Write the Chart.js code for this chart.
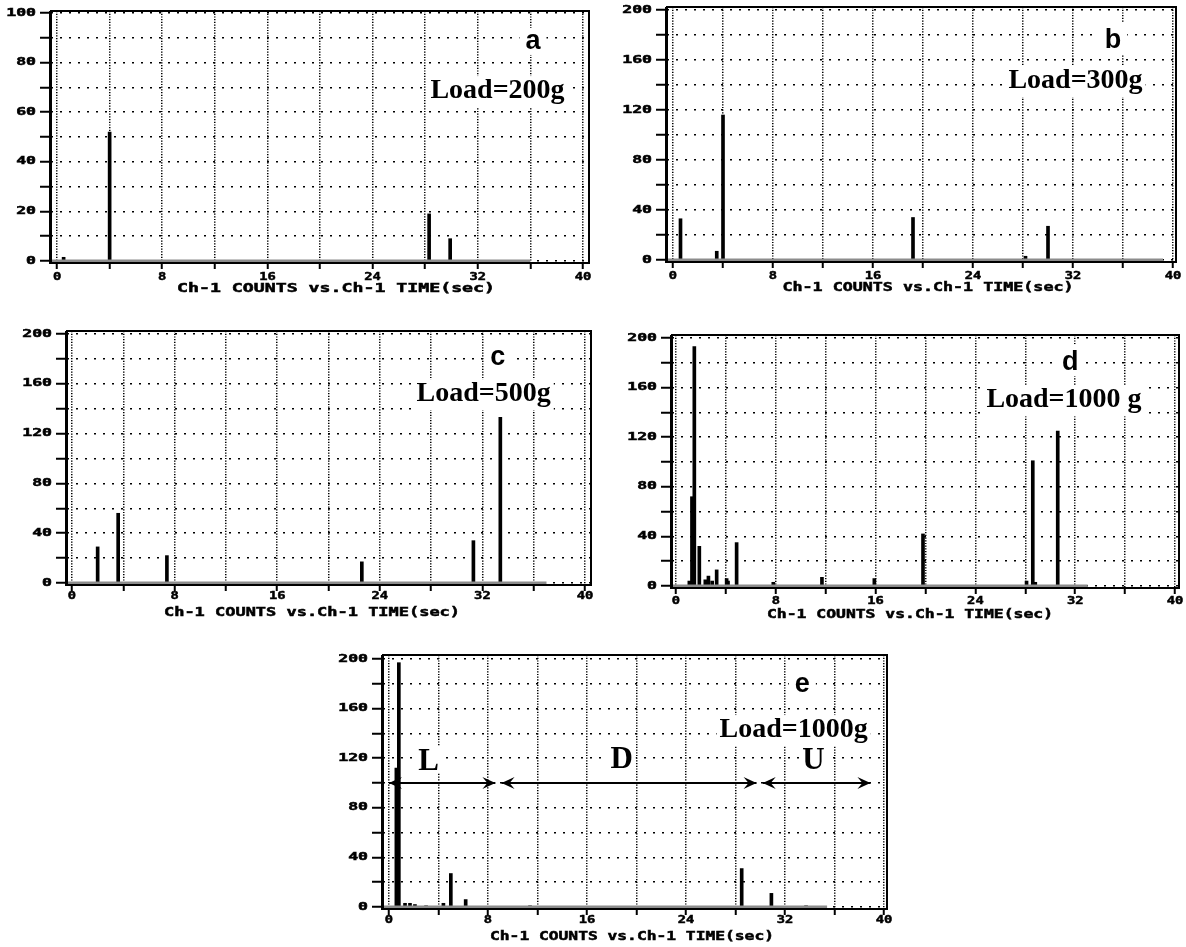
<!DOCTYPE html>
<html>
<head>
<meta charset="utf-8">
<title>Ch-1 counts vs time</title>
<script src="https://cdn.jsdelivr.net/npm/chart.js@4.4.1/dist/chart.umd.min.js"></script>
<style>
  body { margin: 0; background: #fff; }
  #wrap { position: relative; width: 1186px; height: 947px; overflow: hidden; }
  #wrap canvas { position: absolute; }
</style>
</head>
<body>
<div id="wrap">
  <canvas id="chartA" style="left:0;top:0"></canvas>
  <canvas id="chartB" style="left:610px;top:0"></canvas>
  <canvas id="chartC" style="left:0;top:310px"></canvas>
  <canvas id="chartD" style="left:610px;top:310px"></canvas>
  <canvas id="chartE" style="left:320px;top:640px"></canvas>
</div>
<script>
// ---- data ----
const timesA  = [0.5, 4.0, 28.3, 29.9];
const countsA = [1.5, 52, 19, 9];

const timesB  = [0.6, 3.5, 4.0, 19.2, 28.2, 30.0];
const countsB = [33, 7, 116, 34, 3, 27];

const timesC  = [2.0, 3.6, 7.4, 22.6, 31.3, 33.4];
const countsC = [29, 56, 22, 17, 34, 133];

const timesD  = [1.07, 1.28, 1.47, 1.87, 2.35, 2.6, 2.9, 3.26, 4.06, 4.17, 4.86, 7.8, 11.7, 15.9, 19.8, 28.1, 28.6, 28.8, 30.6];
const countsD = [4, 72, 193, 32, 5, 8, 4, 13, 6, 4, 35, 3, 7, 6, 42, 4, 101, 3, 125];

const timesE  = [0.6, 0.8, 1.3, 1.7, 2.1, 3.0, 4.4, 5.0, 6.2, 11.4, 28.5, 30.9, 33.7];
const countsE = [112, 197, 3, 3, 2, 1, 3, 27, 6, 1, 31, 11, 1];

// end of the recorded trace (zero line) for each run
const traceEnd = [36, 39.2, 37, 33, 35.4];

const panelLetters = ['a', 'b', 'c', 'd', 'e'];
const loadLabels = ['Load=200g', 'Load=300g', 'Load=500g', 'Load=1000 g', 'Load=1000g'];

// regions marked in run e
const regionNames = ['L', 'D', 'U'];
const regionStart = [0, 9.1, 30.2];
const regionEnd = [8.6, 29.7, 38.9];
const regionLevel = 100;

const xTickLabels = [0, 8, 16, 24, 32, 40];
const xTitle = 'Ch-1 COUNTS vs.Ch-1 TIME(sec)';

// ---- helpers / plugins ----
const monoFamily = '"DejaVu Sans Mono"';

// the old plotter font is very wide, so squeeze a mono font out sideways
function wideText(ctx, text, px, py, size, sx, align) {
  ctx.save();
  ctx.font = 'bold ' + size + 'px ' + monoFamily;
  ctx.textBaseline = 'middle';
  ctx.textAlign = align;
  ctx.fillStyle = '#000';
  ctx.strokeStyle = '#000';
  ctx.lineWidth = 0.5;
  ctx.translate(px, py);
  ctx.scale(sx, 1);
  ctx.fillText(text, 0, 0);
  ctx.strokeText(text, 0, 0);
  ctx.restore();
}

const framePlugin = {
  id: 'frame',
  afterDatasetsDraw(chart) {
    const { ctx, chartArea: a } = chart;
    ctx.save();
    ctx.strokeStyle = '#000';
    ctx.lineWidth = 2;
    ctx.strokeRect(a.left, a.top, a.right - a.left, a.bottom - a.top);
    ctx.fillStyle = '#000';
    ctx.fillRect(a.left - 2, a.top, 3, a.bottom - a.top + 1);
    ctx.restore();
  }
};

function axisTextPlugin(p) {
  return {
    id: 'axisText',
    afterDraw(chart) {
      const { ctx, chartArea: a, scales: { x, y } } = chart;
      x.ticks.forEach(t => {
        if (xTickLabels.includes(t.value)) {
          wideText(ctx, String(t.value), x.getPixelForValue(t.value), a.bottom + p.xLabelDy, 11, 1.25, 'center');
        }
      });
      y.ticks.forEach(t => {
        if (t.value % p.yLabelStep === 0) {
          wideText(ctx, String(t.value), a.left - 15, y.getPixelForValue(t.value), 10, 1.65, 'right');
        }
      });
      ctx.save();
      ctx.font = 'bold 12px ' + monoFamily;
      const w = ctx.measureText(xTitle).width;
      ctx.restore();
      wideText(ctx, xTitle, p.title.cx, p.title.cy, 12, p.title.w / w, 'center');
    }
  };
}

function labelPlugin(items) {
  return {
    id: 'labels',
    beforeDatasetsDraw(chart) {
      const { ctx, scales: { x, y } } = chart;
      items.forEach(it => {
        ctx.save();
        ctx.font = it.font;
        ctx.textAlign = 'center';
        ctx.textBaseline = 'alphabetic';
        const m = ctx.measureText(it.text);
        const px = x.getPixelForValue(it.x);
        const py = y.getPixelForValue(it.y);
        const pad = it.pad || 4;
        ctx.fillStyle = '#fff';
        ctx.fillRect(px - m.width / 2 - pad, py - m.actualBoundingBoxAscent - pad,
          m.width + pad * 2, m.actualBoundingBoxAscent + m.actualBoundingBoxDescent + pad * 2);
        ctx.fillStyle = '#000';
        ctx.fillText(it.text, px, py);
        ctx.restore();
      });
    }
  };
}

function arrowHead(ctx, px, py, dir) {
  ctx.beginPath();
  ctx.moveTo(px, py);
  ctx.lineTo(px - dir * 13, py - 6);
  ctx.lineTo(px - dir * 8, py);
  ctx.lineTo(px - dir * 13, py + 6);
  ctx.closePath();
  ctx.fill();
}

function arrowPlugin(starts, ends, level) {
  return {
    id: 'arrowHeads',
    afterDatasetsDraw(chart) {
      const { ctx, scales: { x, y } } = chart;
      const py = y.getPixelForValue(level);
      ctx.save();
      ctx.fillStyle = '#000';
      starts.forEach((s, i) => {
        arrowHead(ctx, x.getPixelForValue(s), py, -1);
        arrowHead(ctx, x.getPixelForValue(ends[i]), py, 1);
      });
      ctx.restore();
    }
  };
}

// ---- panels ----
const letterFont = 'bold 27px "Liberation Sans"';
const loadFont = 'bold 28px "Liberation Serif"';
const regionFont = 'bold 31px "Liberation Serif"';

const panels = [
  { id: 'chartA', w: 600, h: 300, area: { l: 51, t: 11, r: 589, b: 263 },
    xr: [-0.46, 40.46], yr: [-0.8, 100.8], yStep: 10, yLabelStep: 20, xLabelDy: 14,
    times: timesA, counts: countsA, end: traceEnd[0],
    title: { cx: 336, cy: 289, w: 318 },
    letterAt: [36.2, 85.5], loadAt: [33.5, 65.7] },
  { id: 'chartB', w: 576, h: 300, area: { l: 57, t: 7, r: 566, b: 262 },
    xr: [-0.48, 40.24], yr: [-1.6, 202.4], yStep: 20, yLabelStep: 40, xLabelDy: 14,
    times: timesB, counts: countsB, end: traceEnd[1],
    title: { cx: 318, cy: 288, w: 291 },
    letterAt: [35.2, 169.6], loadAt: [32.2, 137.6] },
  { id: 'chartC', w: 600, h: 320, area: { l: 67, t: 21, r: 591, b: 275 },
    xr: [-0.39, 40.47], yr: [-1.6, 202.4], yStep: 20, yLabelStep: 40, xLabelDy: 11,
    times: timesC, counts: countsC, end: traceEnd[2],
    title: { cx: 312, cy: 303, w: 296 },
    letterAt: [33.2, 175], loadAt: [32.1, 146] },
  { id: 'chartD', w: 576, h: 320, area: { l: 62, t: 25, r: 569, b: 278 },
    xr: [-0.32, 40.32], yr: [-1.6, 202.4], yStep: 20, yLabelStep: 40, xLabelDy: 13,
    times: timesD, counts: countsD, end: traceEnd[3],
    title: { cx: 300, cy: 305, w: 286 },
    letterAt: [31.6, 174], loadAt: [31.1, 144] },
  { id: 'chartE', w: 600, h: 307, area: { l: 63, t: 15, r: 567, b: 269 },
    xr: [-0.48, 40.24], yr: [-1.6, 203.2], yStep: 20, yLabelStep: 40, xLabelDy: 11,
    times: timesE, counts: countsE, end: traceEnd[4],
    title: { cx: 312, cy: 297, w: 284 },
    letterAt: [33.4, 173], loadAt: [32.7, 137],
    regions: true }
];

const regionLabelAt = [[3.2, 110.5], [18.8, 112], [34.3, 111]];

panels.forEach((p, idx) => {
  const canvas = document.getElementById(p.id);
  canvas.width = p.w;
  canvas.height = p.h;

  const datasets = [
    {
      type: 'bar',
      data: p.times.map((t, i) => ({ x: t, y: p.counts[i] })),
      backgroundColor: '#000',
      barThickness: 3,
      order: 3
    },
    {
      type: 'line',
      data: [{ x: p.xr[0], y: 0 }, { x: p.end, y: 0 }],
      borderColor: '#8c8c8c',
      borderWidth: 3,
      pointRadius: 0,
      order: 2
    }
  ];

  const labels = [
    { text: panelLetters[idx], x: p.letterAt[0], y: p.letterAt[1], font: letterFont, pad: 6 },
    { text: loadLabels[idx], x: p.loadAt[0], y: p.loadAt[1], font: loadFont, pad: 3 }
  ];

  const plugins = [framePlugin, axisTextPlugin(p)];

  if (p.regions) {
    regionStart.forEach((s, i) => {
      datasets.push({
        type: 'line',
        data: [{ x: s, y: regionLevel }, { x: regionEnd[i], y: regionLevel }],
        borderColor: '#000',
        borderWidth: 2,
        pointRadius: 0,
        order: 1
      });
      labels.push({ text: regionNames[i], x: regionLabelAt[i][0], y: regionLabelAt[i][1], font: regionFont, pad: 3 });
    });
    plugins.push(arrowPlugin(regionStart, regionEnd, regionLevel));
  }
  plugins.push(labelPlugin(labels));

  new Chart(canvas, {
    type: 'bar',
    data: { datasets: datasets },
    options: {
      responsive: false,
      animation: false,
      events: [],
      layout: { padding: { left: 0, top: p.area.t, right: p.w - p.area.r, bottom: 0 } },
      plugins: { legend: { display: false }, tooltip: { enabled: false } },
      scales: {
        x: {
          type: 'linear',
          offset: false,
          min: p.xr[0],
          max: p.xr[1],
          afterFit: s => { s.height = p.h - p.area.b; },
          ticks: { stepSize: 4, includeBounds: false, autoSkip: false, display: false },
          grid: { offset: false, color: '#000', lineWidth: 1.5, tickColor: '#000', tickWidth: 2, tickLength: 6 },
          border: { display: false, dash: [1.2, 1.5] }
        },
        y: {
          min: p.yr[0],
          max: p.yr[1],
          afterFit: s => { s.width = p.area.l; },
          ticks: { stepSize: p.yStep, includeBounds: false, autoSkip: false, display: false },
          grid: { color: '#000', lineWidth: 1.5, tickColor: '#000', tickWidth: 2, tickLength: 11 },
          border: { display: false, dash: [2, 7] }
        }
      }
    },
    plugins: plugins
  });
});
</script>
</body>
</html>
